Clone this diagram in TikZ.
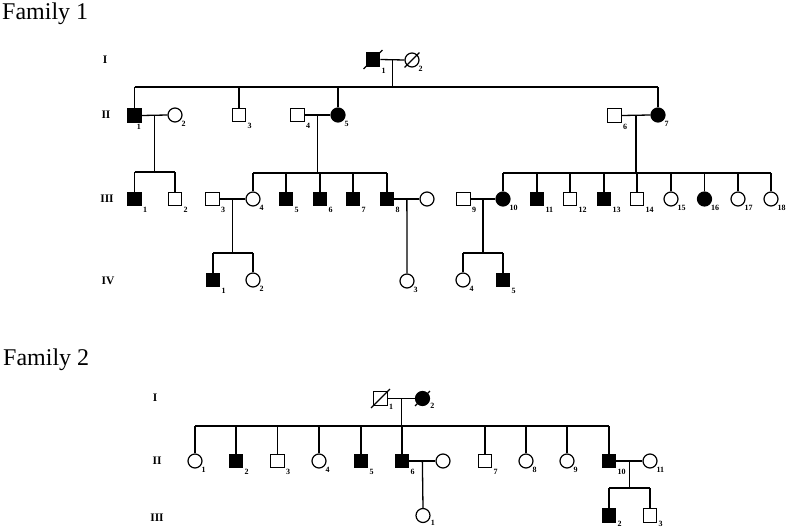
\documentclass[tikz,border=0pt]{standalone}
\usepackage{fontspec}
\setmainfont{Liberation Serif}
\usetikzlibrary{calc,positioning}
\tikzset{male/.style={draw,line width=1.2pt,minimum size=13.5pt,inner sep=0pt,fill=white,label distance=1pt},female/.style={draw,circle,line width=1.2pt,minimum size=14pt,inner sep=0pt,fill=white,label distance=1.5pt},aff/.style={fill=black},kin/.style={line width=1.3pt},slash/.style={line width=1.1pt,shorten <=-3pt,shorten >=-3pt},gen/.style={font=\bfseries\fontsize{11.5}{11.5}\selectfont},num/.style={font=\bfseries\fontsize{8}{8}\selectfont,inner sep=1pt},title/.style={font=\fontsize{24}{24}\selectfont,anchor=base west,inner sep=0pt}}
\begin{document}
\begin{tikzpicture}[x=1pt,y=-1pt]
\useasboundingbox (0,0) rectangle (790,532);
% Family 1
\node[title] (t1) at (2,20) {Family 1};
\node[gen] (g1a) at (105,60) {I}; \node[gen] (g1b) at (106,115) {II};
\node[gen] (g1c) at (107,199) {III}; \node[gen] (g1d) at (108,281) {IV};
\node[male,aff,label={[num]-45:1}] (a1) at (373,59.5) {};
\node[female,label={[num]-45:2}] (a2) at (412,60) {};
\node[male,aff,label={[num]-80:1}] (b1) at (134.5,115.5) {};
\node[female,label={[num]-45:2}] (b2) at (175,115) {};
\node[male,label={[num]-45:3}] (b3) at (239,115) {};
\node[male,label={[num]-45:4}] (b4) at (297.5,115) {};
\node[female,aff,label={[num]-45:5}] (b5) at (338,115) {};
\node[male,label={[num]-45:6}] (b6) at (614.5,115.5) {};
\node[female,aff,label={[num]-45:7}] (b7) at (658,115) {};
\node[male,aff,label={[num]-45:1}] (c1) at (134.5,199) {};
\node[male,label={[num]-45:2}] (c2) at (175,199) {};
\node[male,label={[num]-45:3}] (c3) at (212.5,199) {};
\node[female,label={[num]-45:4}] (c4) at (253,199) {};
\node[male,aff,label={[num]-45:5}] (c5) at (286,199) {};
\node[male,aff,label={[num]-45:6}] (c6) at (320,199) {};
\node[male,aff,label={[num]-45:7}] (c7) at (353,199) {};
\node[male,aff,label={[num]-45:8}] (c8) at (387,199) {};
\node[female] (c8w) at (427,199) {};
\node[male,label={[num]-45:9}] (c9) at (463.5,199) {};
\node[female,aff,label={[num]-45:10}] (c10) at (503,199) {};
\node[male,aff,label={[num]-45:11}] (c11) at (537,199) {};
\node[male,label={[num]-45:12}] (c12) at (570,199) {};
\node[male,aff,label={[num]-45:13}] (c13) at (604,199) {};
\node[male,label={[num]-45:14}] (c14) at (637,199) {};
\node[female,label={[num]-45:15}] (c15) at (671,199) {};
\node[female,aff,label={[num]-45:16}] (c16) at (704.5,199) {};
\node[female,label={[num]-45:17}] (c17) at (738,199) {};
\node[female,label={[num]-45:18}] (c18) at (771,199) {};
\node[male,aff,label={[num]-45:1}] (d1) at (213,280) {};
\node[female,label={[num]-45:2}] (d2) at (253,280) {};
\node[female,label={[num]-45:3}] (d3) at (407,281) {};
\node[female,label={[num]-45:4}] (d4) at (463,280) {};
\node[male,aff,label={[num]-45:5}] (d5) at (503,280) {};
\draw[slash] (a1.south west) -- (a1.north east);
\draw[slash] (a2.south west) -- (a2.north east);
\coordinate (sa) at (0,87); \coordinate (sb) at (0,172); \coordinate (sc) at (0,173);
\coordinate (sd) at (0,173); \coordinate (se) at (0,253); \coordinate (sf) at (0,253);
\draw[kin] (a1.east) -- (a2.west) coordinate[midway] (ma);
\draw[kin] (b1.east) -- (b2.west) coordinate[midway] (mb);
\draw[kin] (b4.east) -- (b5.west) coordinate[midway] (mc);
\draw[kin] (b6.east) -- (b7.west) coordinate[midway] (md);
\draw[kin] (c3.east) -- (c4.west) coordinate[midway] (me);
\draw[kin] (c8.east) -- (c8w.west) coordinate[midway] (mx);
\draw[kin] (c9.east) -- (c10.west) coordinate[midway] (mf);
\draw[kin] (ma) -- (ma |- sa); \draw[kin] (b1 |- sa) -- (b7 |- sa);
\foreach \k in {b1,b3,b5,b7} \draw[kin] (\k.north) -- (\k |- sa);
\draw[kin] (mb) -- (mb |- sb); \draw[kin] (c1 |- sb) -- (c2 |- sb);
\foreach \k in {c1,c2} \draw[kin] (\k.north) -- (\k |- sb);
\draw[kin] (mc) -- (mc |- sc); \draw[kin] (c4 |- sc) -- (c8 |- sc);
\foreach \k in {c4,c5,c6,c7,c8} \draw[kin] (\k.north) -- (\k |- sc);
\draw[kin] (md) -- (md |- sd); \draw[kin] (c10 |- sd) -- (c18 |- sd);
\foreach \k in {c10,c11,c12,c13,c14,c15,c16,c17,c18} \draw[kin] (\k.north) -- (\k |- sd);
\draw[kin] (me) -- (me |- se); \draw[kin] (d1 |- se) -- (d2 |- se);
\foreach \k in {d1,d2} \draw[kin] (\k.north) -- (\k |- se);
\draw[kin] (mx) -- (d3.north);
\draw[kin] (mf) -- (mf |- sf); \draw[kin] (d4 |- sf) -- (d5 |- sf);
\foreach \k in {d4,d5} \draw[kin] (\k.north) -- (\k |- sf);
% Family 2
\node[title] (t2) at (3,365) {Family 2};
\node[gen] (g2a) at (155,398) {I}; \node[gen] (g2b) at (157,461) {II};
\node[gen] (g2c) at (157,518) {III};
\node[male,label={[num]-30:1}] (p1) at (380.5,398.5) {};
\node[female,aff,label={[num]-30:2}] (p2) at (422.5,398.5) {};
\node[female,label={[num]-45:1}] (q1) at (195,461) {};
\node[male,aff,label={[num]-45:2}] (q2) at (236,461) {};
\node[male,label={[num]-45:3}] (q3) at (277.5,461) {};
\node[female,label={[num]-45:4}] (q4) at (319,461) {};
\node[male,aff,label={[num]-45:5}] (q5) at (361,461) {};
\node[male,aff,label={[num]-45:6}] (q6) at (402,461) {};
\node[female] (q6w) at (443,461) {};
\node[male,label={[num]-45:7}] (q7) at (485,461) {};
\node[female,label={[num]-45:8}] (q8) at (526,461) {};
\node[female,label={[num]-45:9}] (q9) at (567,461) {};
\node[male,aff,label={[num]-45:10}] (q10) at (609,461) {};
\node[female,label={[num]-45:11}] (q11) at (650,461) {};
\node[female,label={[num]-30:1}] (r1) at (423,515.5) {};
\node[male,aff,label={[num]-30:2}] (r2) at (609,515.5) {};
\node[male,label={[num]-30:3}] (r3) at (650,515.5) {};
\draw[slash] (p1.south west) -- (p1.north east);
\draw[slash] (p2.south west) -- (p2.north east);
\coordinate (sp) at (0,426); \coordinate (sg) at (0,488);
\draw[kin] (p1.east) -- (p2.west) coordinate[midway] (mp);
\draw[kin] (q6.east) -- (q6w.west) coordinate[midway] (mq);
\draw[kin] (q10.east) -- (q11.west) coordinate[midway] (mg);
\draw[kin] (mp) -- (mp |- sp); \draw[kin] (q1 |- sp) -- (q10 |- sp);
\foreach \k in {q1,q2,q3,q4,q5,q6,q7,q8,q9,q10} \draw[kin] (\k.north) -- (\k |- sp);
\draw[kin] (mq) -- (r1.north);
\draw[kin] (mg) -- (mg |- sg); \draw[kin] (r2 |- sg) -- (r3 |- sg);
\foreach \k in {r2,r3} \draw[kin] (\k.north) -- (\k |- sg);
\end{tikzpicture}
\end{document}
